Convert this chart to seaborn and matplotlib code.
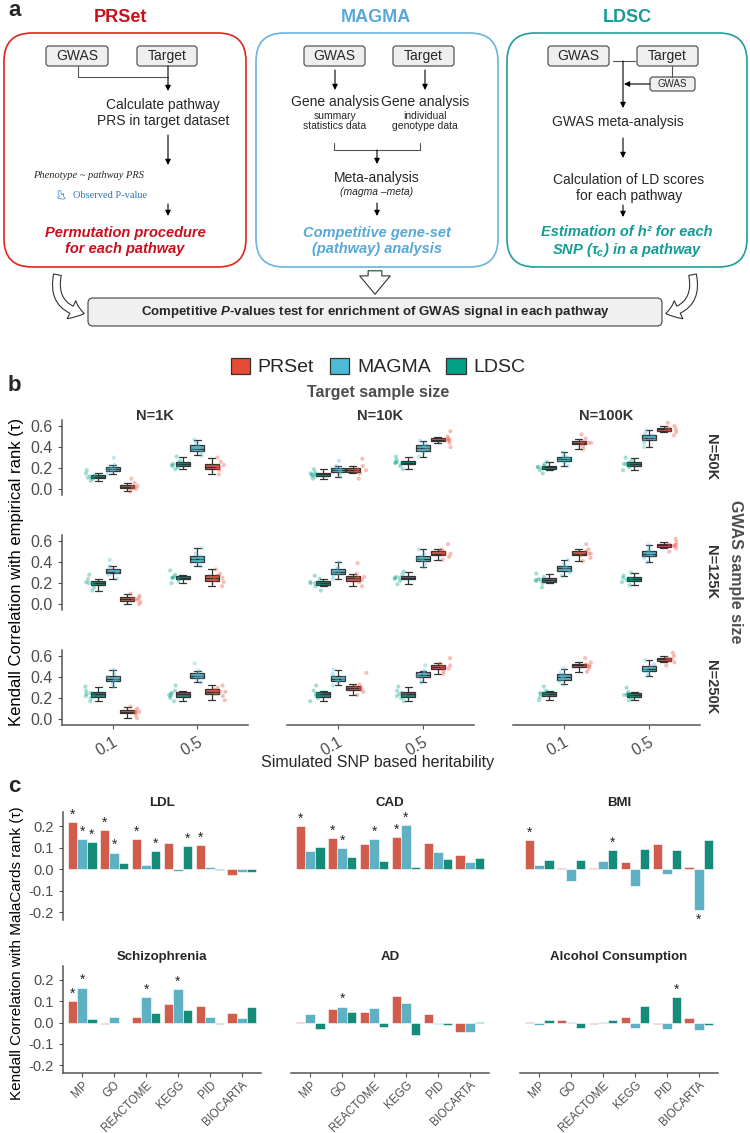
import numpy as np
import pandas as pd
import matplotlib
matplotlib.use("Agg")
import matplotlib.pyplot as plt
import seaborn as sns
from matplotlib.patches import FancyBboxPatch, FancyArrowPatch, Patch

np.random.seed(3)  # only for stripplot jitter positions

# ---------------- DATA ----------------
methods_legend = ["PRSet", "MAGMA", "LDSC"]
methods_box = ["LDSC", "MAGMA", "PRSet"]
target_sizes = ["N=1K", "N=10K", "N=100K"]
gwas_sizes = ["N=50K", "N=125K", "N=250K"]
h2_levels = ["0.1", "0.5"]

# per GWAS size: lists ordered [1K-0.1, 1K-0.5, 10K-0.1, 10K-0.5, 100K-0.1, 100K-0.5]
ldsc_50k = [
    [0.08, 0.10, 0.11, 0.12, 0.12, 0.13, 0.15, 0.18],
    [0.19, 0.21, 0.22, 0.23, 0.24, 0.25, 0.27, 0.31],
    [0.10, 0.12, 0.13, 0.14, 0.14, 0.15, 0.16, 0.19],
    [0.19, 0.22, 0.24, 0.25, 0.25, 0.26, 0.28, 0.31],
    [0.15, 0.18, 0.20, 0.21, 0.21, 0.22, 0.24, 0.26],
    [0.18, 0.21, 0.23, 0.24, 0.24, 0.25, 0.27, 0.30],
]
magma_50k = [
    [0.14, 0.17, 0.18, 0.19, 0.19, 0.21, 0.23, 0.30],
    [0.32, 0.35, 0.37, 0.38, 0.39, 0.41, 0.44, 0.47],
    [0.12, 0.16, 0.17, 0.18, 0.18, 0.20, 0.22, 0.27],
    [0.31, 0.35, 0.37, 0.39, 0.39, 0.41, 0.43, 0.46],
    [0.22, 0.25, 0.27, 0.29, 0.29, 0.30, 0.32, 0.35],
    [0.40, 0.44, 0.47, 0.48, 0.49, 0.51, 0.53, 0.56],
]
prset_50k = [
    [-0.02, 0.00, 0.01, 0.02, 0.02, 0.03, 0.06, 0.10],
    [0.14, 0.18, 0.20, 0.21, 0.21, 0.23, 0.26, 0.30],
    [0.10, 0.15, 0.17, 0.18, 0.18, 0.19, 0.22, 0.29],
    [0.40, 0.44, 0.46, 0.47, 0.47, 0.48, 0.50, 0.55],
    [0.38, 0.41, 0.43, 0.44, 0.44, 0.45, 0.48, 0.52],
    [0.51, 0.54, 0.56, 0.57, 0.57, 0.58, 0.60, 0.63],
]
ldsc_125k = [
    [0.13, 0.16, 0.19, 0.20, 0.20, 0.21, 0.24, 0.28],
    [0.20, 0.22, 0.24, 0.25, 0.25, 0.26, 0.28, 0.32],
    [0.13, 0.17, 0.19, 0.20, 0.20, 0.21, 0.24, 0.27],
    [0.19, 0.22, 0.24, 0.25, 0.25, 0.26, 0.28, 0.31],
    [0.16, 0.20, 0.22, 0.23, 0.23, 0.24, 0.26, 0.29],
    [0.18, 0.21, 0.23, 0.24, 0.24, 0.25, 0.27, 0.30],
]
magma_125k = [
    [0.24, 0.28, 0.30, 0.31, 0.31, 0.33, 0.36, 0.42],
    [0.36, 0.39, 0.41, 0.42, 0.43, 0.45, 0.48, 0.53],
    [0.24, 0.27, 0.29, 0.31, 0.31, 0.33, 0.35, 0.40],
    [0.35, 0.39, 0.42, 0.43, 0.43, 0.45, 0.48, 0.52],
    [0.27, 0.30, 0.32, 0.34, 0.34, 0.36, 0.38, 0.42],
    [0.40, 0.44, 0.46, 0.48, 0.48, 0.50, 0.52, 0.56],
]
prset_125k = [
    [0.00, 0.02, 0.04, 0.05, 0.05, 0.06, 0.08, 0.10],
    [0.17, 0.21, 0.23, 0.25, 0.25, 0.27, 0.29, 0.33],
    [0.17, 0.21, 0.23, 0.25, 0.25, 0.26, 0.29, 0.39],
    [0.42, 0.45, 0.47, 0.48, 0.48, 0.50, 0.52, 0.57],
    [0.41, 0.44, 0.47, 0.48, 0.48, 0.50, 0.52, 0.57],
    [0.50, 0.53, 0.55, 0.56, 0.56, 0.57, 0.59, 0.62],
]
ldsc_250k = [
    [0.17, 0.20, 0.22, 0.23, 0.24, 0.25, 0.27, 0.31],
    [0.17, 0.20, 0.22, 0.23, 0.24, 0.25, 0.27, 0.32],
    [0.17, 0.20, 0.22, 0.24, 0.24, 0.25, 0.27, 0.32],
    [0.17, 0.20, 0.22, 0.23, 0.24, 0.25, 0.27, 0.31],
    [0.18, 0.21, 0.23, 0.24, 0.24, 0.25, 0.27, 0.31],
    [0.18, 0.20, 0.22, 0.23, 0.23, 0.24, 0.26, 0.30],
]
magma_250k = [
    [0.31, 0.34, 0.37, 0.38, 0.39, 0.40, 0.43, 0.47],
    [0.35, 0.38, 0.40, 0.41, 0.41, 0.43, 0.46, 0.53],
    [0.32, 0.35, 0.37, 0.38, 0.39, 0.40, 0.43, 0.47],
    [0.35, 0.38, 0.41, 0.42, 0.42, 0.44, 0.46, 0.51],
    [0.33, 0.36, 0.38, 0.40, 0.40, 0.42, 0.44, 0.48],
    [0.41, 0.44, 0.46, 0.48, 0.48, 0.50, 0.52, 0.56],
]
prset_250k = [
    [0.01, 0.04, 0.06, 0.07, 0.07, 0.08, 0.10, 0.12],
    [0.18, 0.22, 0.24, 0.26, 0.26, 0.28, 0.30, 0.32],
    [0.23, 0.26, 0.28, 0.30, 0.30, 0.31, 0.33, 0.44],
    [0.43, 0.46, 0.48, 0.49, 0.50, 0.51, 0.53, 0.58],
    [0.45, 0.48, 0.50, 0.51, 0.51, 0.52, 0.54, 0.58],
    [0.51, 0.54, 0.56, 0.57, 0.57, 0.58, 0.60, 0.63],
]

# panel c
databases = ["MP", "GO", "REACTOME", "KEGG", "PID", "BIOCARTA"]
traits = ["LDL", "CAD", "BMI", "Schizophrenia", "AD", "Alcohol Consumption"]
prset_tau = [
    [0.218, 0.182, 0.140, 0.123, 0.113, -0.028],
    [0.200, 0.144, 0.118, 0.150, 0.122, 0.066],
    [0.133, 0.003, 0.007, 0.033, 0.117, 0.008],
    [0.099, -0.005, 0.027, 0.088, 0.080, 0.044],
    [0.003, 0.065, 0.050, 0.125, 0.040, -0.045],
    [0.005, 0.012, -0.008, 0.025, -0.005, 0.020],
]
magma_tau = [
    [0.140, 0.077, 0.019, -0.008, 0.010, -0.015],
    [0.084, 0.096, 0.140, 0.205, 0.078, 0.033],
    [0.019, -0.054, 0.040, -0.079, -0.023, -0.190],
    [0.164, 0.027, 0.121, 0.156, 0.024, 0.020],
    [0.040, 0.075, 0.070, 0.090, -0.005, -0.045],
    [-0.010, 0.005, 0.005, -0.025, -0.030, -0.035],
]
ldsc_tau = [
    [0.127, 0.030, 0.083, 0.105, -0.003, -0.015],
    [0.102, 0.054, 0.036, 0.011, 0.045, 0.050],
    [0.043, 0.042, 0.090, 0.093, 0.091, 0.135],
    [0.017, -0.002, 0.046, 0.058, -0.005, 0.074],
    [-0.030, 0.050, -0.020, -0.060, -0.010, 0.005],
    [0.012, -0.025, 0.010, 0.080, 0.120, -0.010],
]
prset_star = [
    [1, 1, 1, 0, 1, 0], [1, 1, 0, 1, 0, 0], [1, 0, 0, 0, 0, 0],
    [1, 0, 0, 0, 0, 0], [0, 0, 0, 0, 0, 0], [0, 0, 0, 0, 0, 0],
]
magma_star = [
    [1, 1, 0, 0, 0, 0], [0, 1, 1, 1, 0, 0], [0, 0, 0, 0, 0, 1],
    [1, 0, 1, 1, 0, 0], [0, 1, 0, 0, 0, 0], [0, 0, 0, 0, 0, 0],
]
ldsc_star = [
    [1, 0, 1, 1, 0, 0], [0, 0, 0, 0, 0, 0], [0, 0, 1, 0, 0, 0],
    [0, 0, 0, 0, 0, 0], [0, 0, 0, 0, 0, 0], [0, 0, 0, 0, 1, 0],
]

# ---------------- STYLE ----------------
sns.set_style("white")
plt.rcParams["font.family"] = ["Liberation Sans", "DejaVu Sans"]
plt.rcParams["mathtext.fontset"] = "custom"
plt.rcParams["mathtext.it"] = "Liberation Sans:italic:bold"
plt.rcParams["mathtext.rm"] = "Liberation Sans:bold"
palette = {"PRSet": "#E64B35", "MAGMA": "#4DBBD5", "LDSC": "#00A087"}
TICK = "#4D4D4D"
DARK = "#333333"

W, H = 750, 1133
fig = plt.figure(figsize=(W / 100, H / 100), dpi=100)


def ax_px(x0, y0, x1, y1):
    return fig.add_axes([x0 / W, 1 - y1 / H, (x1 - x0) / W, (y1 - y0) / H])


def ftext(x, y, s, **kw):
    fig.text(x / W, 1 - y / H, s, **kw)


# ---------------- PANEL A ----------------
axa = ax_px(0, 0, 750, 345)
axa.set_xlim(0, 750)
axa.set_ylim(345, 0)
axa.axis("off")

RED_T, BLUE_T, TEAL_T = "#C8101A", "#56A8DA", "#129C98"


def rbox(x0, y0, x1, y1, ec, fc="white", lw=1.2, r=28):
    axa.add_patch(FancyBboxPatch((x0, y0), x1 - x0, y1 - y0,
                                 boxstyle=f"round,pad=0,rounding_size={r}",
                                 ec=ec, fc=fc, lw=lw))


def sbox(x0, y0, x1, y1, s, fs=10):
    rbox(x0, y0, x1, y1, ec="#555555", fc="#EFEFEF", lw=0.9, r=3)
    axa.text((x0 + x1) / 2, (y0 + y1) / 2, s, ha="center", va="center", fontsize=fs)


def arr(x, y0, y1, x1=None):
    x1 = x if x1 is None else x1
    axa.annotate("", xy=(x1, y1), xytext=(x, y0),
                 arrowprops=dict(arrowstyle="-|>", color="black", lw=0.8,
                                 mutation_scale=8, shrinkA=0, shrinkB=0))


def line(xs, ys):
    axa.plot(xs, ys, color="#555555", lw=0.8)


rbox(4, 33, 246, 267, "#E0241B")
rbox(256, 33, 498, 267, "#6AB4DE")
rbox(507, 33, 747, 267, "#1E9E9C")
axa.text(120, 17, "PRSet", ha="center", va="center", fontsize=13, fontweight="bold", color=RED_T)
axa.text(376, 17, "MAGMA", ha="center", va="center", fontsize=13, fontweight="bold", color=BLUE_T)
axa.text(627, 17, "LDSC", ha="center", va="center", fontsize=13, fontweight="bold", color=TEAL_T)

# PRSet flow
sbox(46, 46, 108, 66, "GWAS")
sbox(137, 46, 197, 66, "Target")
line([78, 78, 168], [66, 77, 77])
arr(168, 66, 91)
axa.text(163, 113, "Calculate pathway\nPRS in target dataset", ha="center", va="center",
         fontsize=10, linespacing=1.15)
arr(168, 135, 165)
axa.text(89, 176, "Phenotype ~ pathway PRS", ha="center", va="center", fontsize=7.5,
         family="Liberation Serif", style="italic")
axa.add_patch(FancyArrowPatch((60, 188), (68, 199), connectionstyle="arc3,rad=0.6",
                              arrowstyle="simple,head_length=0.5,head_width=0.7,tail_width=0.25",
                              mutation_scale=8, fc="white", ec="#5B9BD5", lw=0.6))
axa.text(73, 195, "Observed P-value", ha="left", va="center", fontsize=7.5,
         family="Liberation Serif", color="#2E75B6")
arr(168, 204, 216)
axa.text(125, 241, "Permutation procedure\nfor each pathway", ha="center", va="center",
         fontsize=10.5, fontweight="bold", style="italic", color=RED_T, linespacing=1.2)

# MAGMA flow
sbox(304, 46, 365, 66, "GWAS")
sbox(393, 46, 454, 66, "Target")
arr(335, 70, 90)
arr(425, 70, 90)
axa.text(335, 102, "Gene analysis", ha="center", va="center", fontsize=10)
axa.text(425, 102, "Gene analysis", ha="center", va="center", fontsize=10)
axa.text(335, 121, "summary\nstatistics data", ha="center", va="center", fontsize=7.5, linespacing=1.1)
axa.text(425, 121, "individual\ngenotype data", ha="center", va="center", fontsize=7.5, linespacing=1.1)
line([334, 334, 420, 420], [143, 150, 150, 143])
arr(377, 150, 164)
axa.text(377, 178, "Meta-analysis", ha="center", va="center", fontsize=10)
axa.text(377, 192, "(magma \u2013meta)", ha="center", va="center", fontsize=7.5, style="italic")
arr(377, 203, 216)
axa.text(377, 241, "Competitive gene-set\n(pathway) analysis", ha="center", va="center",
         fontsize=10.5, fontweight="bold", style="italic", color=BLUE_T, linespacing=1.2)

# LDSC flow
sbox(548, 46, 609, 66, "GWAS")
sbox(637, 46, 698, 66, "Target")
line([613, 635], [61, 61])
arr(623, 61, 108)
line([672, 672], [66, 77])
sbox(650, 77, 695, 91, "GWAS", fs=7)
arr(650, 84, 84, x1=624)
axa.text(618, 122, "GWAS meta-analysis", ha="center", va="center", fontsize=10)
arr(623, 138, 158)
axa.text(629, 188, "Calculation of LD scores\nfor each pathway", ha="center", va="center",
         fontsize=10, linespacing=1.15)
arr(623, 205, 217)
axa.text(627, 232, "Estimation of h\u00b2 for each", ha="center", va="center",
         fontsize=10.5, fontweight="bold", style="italic", color=TEAL_T)
axa.text(627, 250, r"SNP ($\tau_c$) in a pathway", ha="center", va="center",
         fontsize=10.5, fontweight="bold", style="italic", color=TEAL_T)

# bottom
axa.add_patch(FancyArrowPatch((375, 268), (375, 297),
                              arrowstyle="simple,head_length=0.6,head_width=1.0,tail_width=0.45",
                              mutation_scale=22, fc="white", ec=DARK, lw=0.8))
axa.add_patch(FancyArrowPatch((58, 272), (87, 314), connectionstyle="arc3,rad=0.55",
                              arrowstyle="simple,head_length=0.6,head_width=0.9,tail_width=0.35",
                              mutation_scale=16, fc="white", ec=DARK, lw=0.8))
axa.add_patch(FancyArrowPatch((692, 272), (663, 314), connectionstyle="arc3,rad=-0.55",
                              arrowstyle="simple,head_length=0.6,head_width=0.9,tail_width=0.35",
                              mutation_scale=16, fc="white", ec=DARK, lw=0.8))
rbox(88, 298, 662, 326, ec="#555555", fc="#F0F0F0", lw=0.9, r=5)
axa.text(375, 312, r"Competitive $\it{P}$-values test for enrichment of GWAS signal in each pathway",
         ha="center", va="center", fontsize=9.5, fontweight="bold")

ftext(8, 11, "a", fontsize=16, fontweight="bold", va="center")

# ---------------- PANEL B ----------------
ftext(8, 385, "b", fontsize=16, fontweight="bold", va="center")
handles = [Patch(facecolor=palette[m], edgecolor=DARK, lw=0.9, label=m) for m in methods_legend]
fig.legend(handles=handles, loc="center", bbox_to_anchor=(378 / W, 1 - 367 / H), ncol=3,
           frameon=False, fontsize=14, handlelength=1.0, handleheight=0.9,
           columnspacing=0.8, handletextpad=0.4)
ftext(378, 392, "Target sample size", ha="center", va="center", fontsize=11.5,
      fontweight="bold", color=TICK)

row_data = [(ldsc_50k, magma_50k, prset_50k),
            (ldsc_125k, magma_125k, prset_125k),
            (ldsc_250k, magma_250k, prset_250k)]
col_x = [(62, 248), (287, 474), (513, 700)]
row_y = [(420, 495), (535, 610), (650, 725)]

for c in range(3):
    ftext((col_x[c][0] + col_x[c][1]) / 2, 416, target_sizes[c], ha="center", va="center",
          fontsize=10.5, fontweight="bold", color=DARK)
for r in range(3):
    ftext(711, (row_y[r][0] + row_y[r][1]) / 2, gwas_sizes[r], ha="center", va="center",
          fontsize=10.5, fontweight="bold", color=DARK, rotation=-90)

for r in range(3):
    for c in range(3):
        recs = []
        for m, arrs in zip(methods_box, row_data[r]):
            for k, h in enumerate(h2_levels):
                for v in arrs[2 * c + k]:
                    recs.append((m, h, v))
        df = pd.DataFrame(recs, columns=["method", "h2", "tau"])
        ax = ax_px(col_x[c][0], row_y[r][0], col_x[c][1], row_y[r][1])
        ax.set_facecolor("none")
        sns.boxplot(data=df, x="h2", y="tau", hue="method", order=h2_levels,
                    hue_order=methods_box, palette=palette, width=0.52, gap=0.06,
                    showfliers=False, linewidth=0.9, linecolor=DARK, ax=ax, legend=False)
        sns.stripplot(data=df, x="h2", y="tau", hue="method", order=h2_levels,
                      hue_order=methods_box, palette=palette, dodge=True, jitter=0.2,
                      size=3, alpha=0.35, linewidth=0, ax=ax, legend=False)
        ax.set_xlim(-0.6, 1.6)
        ax.set_ylim(-0.055, 0.657)
        ax.set_yticks([0, 0.2, 0.4, 0.6])
        ax.set_yticklabels(["0.0", "0.2", "0.4", "0.6"])
        ax.set_xlabel("")
        ax.set_ylabel("")
        for s in ["top", "right"]:
            ax.spines[s].set_visible(False)
        for s in ["left", "bottom"]:
            ax.spines[s].set_color("#555555")
            ax.spines[s].set_linewidth(1.1)
        ax.tick_params(length=3, width=0.8, color="#555555", labelcolor=TICK, labelsize=11.5,
                       left=True, bottom=True)
        if c > 0:
            ax.spines["left"].set_visible(False)
            ax.tick_params(axis="y", left=False, labelleft=False)
        if r < 2:
            ax.spines["bottom"].set_visible(False)
            ax.tick_params(axis="x", bottom=False, labelbottom=False)
        else:
            for lab in ax.get_xticklabels():
                lab.set_rotation(30)
                lab.set_ha("right")
                lab.set_rotation_mode("anchor")

ftext(17, 572, "Kendall Correlation with empirical rank (\u03c4)", rotation=90, ha="center",
      va="center", fontsize=12, color="black")
ftext(378, 762, "Simulated SNP based heritability", ha="center", va="center", fontsize=11.5)
ftext(735, 572, "GWAS sample size", rotation=-90, ha="center", va="center", fontsize=11.5,
      fontweight="bold", color=TICK)

# ---------------- PANEL C ----------------
ftext(8, 786, "c", fontsize=16, fontweight="bold", va="center")
cx = [(63, 261), (291, 489), (520, 718)]
cy = [(812, 920), (966, 1073)]
for i, t in enumerate(traits):
    r, c = divmod(i, 3)
    recs = []
    for m, vals in (("PRSet", prset_tau), ("MAGMA", magma_tau), ("LDSC", ldsc_tau)):
        for db, v in zip(databases, vals[i]):
            recs.append((m, db, v))
    df = pd.DataFrame(recs, columns=["method", "db", "tau"])
    ax = ax_px(cx[c][0], cy[r][0], cx[c][1], cy[r][1])
    ax.set_facecolor("none")
    sns.barplot(data=df, x="db", y="tau", hue="method", order=databases,
                hue_order=methods_legend, palette=palette, width=0.9, gap=0,
                errorbar=None, edgecolor="white", linewidth=0.4, ax=ax, legend=False)
    for cont, flags in zip(ax.containers, (prset_star[i], magma_star[i], ldsc_star[i])):
        for bar, f in zip(cont, flags):
            if f:
                xb = bar.get_x() + bar.get_width() / 2
                hb = bar.get_height()
                if hb >= 0:
                    ax.text(xb, hb + 0.002, "*", ha="center", va="bottom", fontsize=10)
                else:
                    ax.text(xb, hb - 0.012, "*", ha="center", va="top", fontsize=10)
    ax.set_xlim(-0.6, 5.6)
    ax.set_ylim(-0.236, 0.265)
    ax.set_yticks([-0.2, -0.1, 0, 0.1, 0.2])
    ax.set_yticklabels(["-0.2", "-0.1", "0.0", "0.1", "0.2"])
    ax.set_xlabel("")
    ax.set_ylabel("")
    ax.set_title(t, fontsize=9.5, fontweight="bold", pad=4)
    for s in ["top", "right"]:
        ax.spines[s].set_visible(False)
    for s in ["left", "bottom"]:
        ax.spines[s].set_color("#555555")
        ax.spines[s].set_linewidth(1.1)
    ax.tick_params(length=3, width=0.8, color="#555555", labelcolor=TICK, labelsize=10.5,
                   left=True, bottom=True)
    ax.tick_params(axis="x", labelsize=8.3, pad=1.5)
    if c > 0:
        ax.spines["left"].set_visible(False)
        ax.tick_params(axis="y", left=False, labelleft=False)
    if r == 0:
        ax.spines["bottom"].set_visible(False)
        ax.tick_params(axis="x", bottom=False, labelbottom=False)
    else:
        for lab in ax.get_xticklabels():
            lab.set_rotation(45)
            lab.set_ha("right")
            lab.set_va("top")
            lab.set_rotation_mode("anchor")

ftext(17, 953, "Kendall Correlation with MalaCards rank (\u03c4)", rotation=90, ha="center",
      va="center", fontsize=11, color="black")

fig.savefig("out.png", dpi=100)
